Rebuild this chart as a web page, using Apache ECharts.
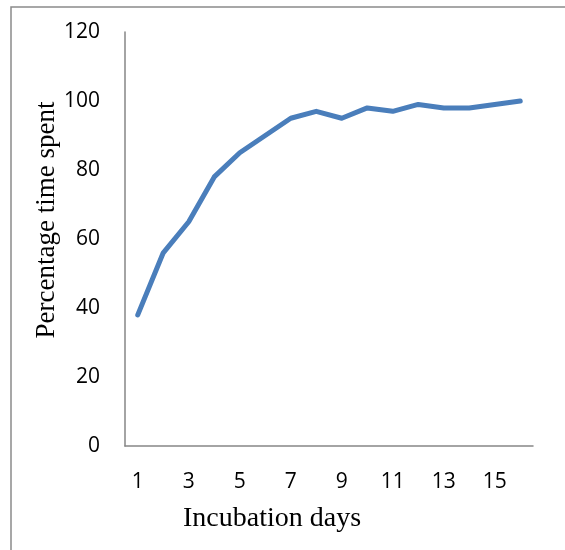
<!DOCTYPE html>
<html>
<head>
<meta charset="utf-8">
<script src="https://cdn.jsdelivr.net/npm/echarts@6/dist/echarts.min.js"></script>
<style>html,body{margin:0;padding:0;background:#fff;}#c{width:565px;height:550px;}</style>
</head>
<body>
<div id="c"></div>
<script>
const days = ['1','2','3','4','5','6','7','8','9','10','11','12','13','14','15','16'];
const percentTime = [38, 56, 65, 78, 85, 90, 95, 97, 95, 98, 97, 99, 98, 98, 99, 100];
const xTitle = 'Incubation days';
const yTitle = 'Percentage time spent';

const chart = echarts.init(document.getElementById('c'), null, {renderer: 'canvas'});
chart.setOption({
  animation: false,
  backgroundColor: '#fff',
  grid: {left: 125, top: 32, right: 32, bottom: 104, containLabel: false},
  xAxis: {
    type: 'category',
    data: days,
    boundaryGap: true,
    axisLine: {lineStyle: {color: '#868686', width: 1.5}},
    axisTick: {show: false},
    axisLabel: {interval: 1, margin: 26, color: '#000', fontFamily: 'Open Sans', fontSize: 21},
    splitLine: {show: false}
  },
  yAxis: {
    type: 'value',
    min: 0, max: 120, interval: 20,
    axisLine: {show: true, lineStyle: {color: '#868686', width: 1.5}},
    axisTick: {show: false},
    axisLabel: {margin: 25, color: '#000', fontFamily: 'Open Sans', fontSize: 21, padding: [4, 0, 0, 0]},
    splitLine: {show: false}
  },
  series: [{
    type: 'line',
    data: percentTime,
    symbol: 'none',
    lineStyle: {color: '#4a7ebb', width: 5, cap: 'round', join: 'round'}
  }],
  graphic: [
    {type: 'rect', shape: {x: 11, y: 7, width: 600, height: 600}, style: {fill: 'none', stroke: '#8a8a8a', lineWidth: 1.5}, silent: true, z: -1},
    {type: 'text', x: 272, y: 519, style: {text: xTitle, fontFamily: 'Liberation Serif', fontSize: 28, fill: '#000', textAlign: 'center', textVerticalAlign: 'middle'}},
    {type: 'text', x: 47, y: 220, rotation: Math.PI / 2, style: {text: yTitle, fontFamily: 'Liberation Serif', fontSize: 27, fill: '#000', textAlign: 'center', textVerticalAlign: 'middle'}}
  ]
});
</script>
</body>
</html>
